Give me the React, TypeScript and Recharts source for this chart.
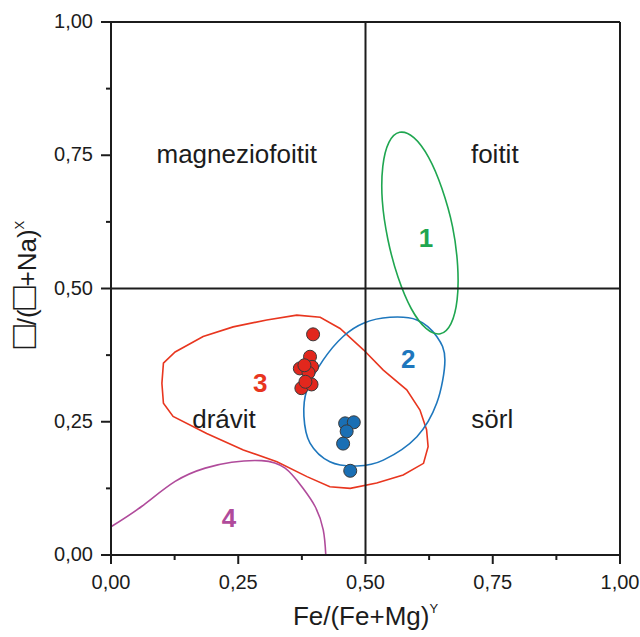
import React from 'react'
import { ComposedChart, Line, ReferenceLine, Scatter, XAxis, YAxis } from 'recharts'

// axis ticks
const majorTicks = [0, 0.25, 0.5, 0.75, 1]
const minorTicks = [0.125, 0.375, 0.625, 0.875]

// measured samples
const redSamples = [
    { x: 0.397, y: 0.414 },
    { x: 0.391, y: 0.372 },
    { x: 0.371, y: 0.350 },
    { x: 0.395, y: 0.353 },
    { x: 0.388, y: 0.342 },
    { x: 0.380, y: 0.356 },
    { x: 0.374, y: 0.313 },
    { x: 0.394, y: 0.320 },
    { x: 0.382, y: 0.325 },
]

const blueSamples = [
    { x: 0.460, y: 0.247 },
    { x: 0.477, y: 0.249 },
    { x: 0.463, y: 0.232 },
    { x: 0.456, y: 0.209 },
    { x: 0.470, y: 0.158 },
]

// field 1 (green ellipse)
const field1 = [
    { x: 0.647, y: 0.415 },
    { x: 0.668, y: 0.434 },
    { x: 0.680, y: 0.479 },
    { x: 0.681, y: 0.543 },
    { x: 0.671, y: 0.616 },
    { x: 0.650, y: 0.688 },
    { x: 0.624, y: 0.746 },
    { x: 0.595, y: 0.783 },
    { x: 0.567, y: 0.793 },
    { x: 0.546, y: 0.774 },
    { x: 0.534, y: 0.729 },
    { x: 0.533, y: 0.665 },
    { x: 0.544, y: 0.592 },
    { x: 0.564, y: 0.521 },
    { x: 0.590, y: 0.462 },
    { x: 0.619, y: 0.425 },
]

// field 2 (blue ellipse)
const field2 = [
    { x: 0.417, y: 0.366 },
    { x: 0.456, y: 0.410 },
    { x: 0.496, y: 0.435 },
    { x: 0.548, y: 0.446 },
    { x: 0.601, y: 0.441 },
    { x: 0.640, y: 0.410 },
    { x: 0.656, y: 0.366 },
    { x: 0.640, y: 0.285 },
    { x: 0.601, y: 0.222 },
    { x: 0.535, y: 0.178 },
    { x: 0.483, y: 0.167 },
    { x: 0.430, y: 0.175 },
    { x: 0.391, y: 0.210 },
    { x: 0.379, y: 0.260 },
    { x: 0.385, y: 0.310 },
]

// field 3 (red polygon)
const field3 = [
    { x: 0.103, y: 0.360 },
    { x: 0.126, y: 0.381 },
    { x: 0.181, y: 0.410 },
    { x: 0.240, y: 0.428 },
    { x: 0.306, y: 0.441 },
    { x: 0.365, y: 0.450 },
    { x: 0.411, y: 0.446 },
    { x: 0.450, y: 0.425 },
    { x: 0.496, y: 0.385 },
    { x: 0.535, y: 0.347 },
    { x: 0.581, y: 0.310 },
    { x: 0.607, y: 0.272 },
    { x: 0.620, y: 0.235 },
    { x: 0.623, y: 0.203 },
    { x: 0.614, y: 0.172 },
    { x: 0.574, y: 0.150 },
    { x: 0.522, y: 0.135 },
    { x: 0.470, y: 0.125 },
    { x: 0.430, y: 0.128 },
    { x: 0.385, y: 0.147 },
    { x: 0.326, y: 0.175 },
    { x: 0.260, y: 0.197 },
    { x: 0.188, y: 0.228 },
    { x: 0.122, y: 0.260 },
    { x: 0.103, y: 0.285 },
    { x: 0.100, y: 0.322 },
]

// field 4 (purple, open)
const field4 = [
    { x: 0.000, y: 0.053 },
    { x: 0.060, y: 0.091 },
    { x: 0.126, y: 0.138 },
    { x: 0.185, y: 0.163 },
    { x: 0.237, y: 0.174 },
    { x: 0.296, y: 0.177 },
    { x: 0.342, y: 0.163 },
    { x: 0.375, y: 0.128 },
    { x: 0.401, y: 0.091 },
    { x: 0.417, y: 0.047 },
    { x: 0.422, y: 0.000 },
]

const regionNames = [
    { x: 0.247, y: 0.736, text: 'magneziofoitit' },
    { x: 0.754, y: 0.736, text: 'foitit' },
    { x: 0.222, y: 0.238, text: 'drávit' },
    { x: 0.749, y: 0.238, text: 'sörl' },
]

const fieldNumbers = [
    { x: 0.619, y: 0.578, text: '1' },
    { x: 0.584, y: 0.351, text: '2' },
    { x: 0.293, y: 0.306, text: '3' },
    { x: 0.232, y: 0.053, text: '4' },
]

const fieldColors: Record<string, string> = {
    '1': '#1fa650',
    '2': '#1e77bd',
    '3': '#e8361f',
    '4': '#b04b9b',
}

const ink = '#1c1c1c'
const font = '"Liberation Sans", Arial, sans-serif'
const fmt = (v: number) => v.toFixed(2).replace('.', ',')

// closed catmull-rom curve, passes through every point
const closedSmooth = (context: any) => {
    let pts: number[][] = []
    return {
        areaStart() {},
        areaEnd() {},
        lineStart() {
            pts = []
        },
        point(x: number, y: number) {
            pts.push([x, y])
        },
        lineEnd() {
            const n = pts.length
            if (!n) return
            context.moveTo(pts[0][0], pts[0][1])
            for (let i = 0; i < n; i++) {
                const p0 = pts[(i - 1 + n) % n]
                const p1 = pts[i]
                const p2 = pts[(i + 1) % n]
                const p3 = pts[(i + 2) % n]
                context.bezierCurveTo(
                    p1[0] + (p2[0] - p0[0]) / 6,
                    p1[1] + (p2[1] - p0[1]) / 6,
                    p2[0] - (p3[0] - p1[0]) / 6,
                    p2[1] - (p3[1] - p1[1]) / 6,
                    p2[0],
                    p2[1]
                )
            }
            context.closePath()
        },
    }
}

const XTick = (props: any) => {
    const { x, y, payload } = props
    const major = majorTicks.includes(payload.value)
    return (
        <g>
            <line x1={x} x2={x} y1={y} y2={y + (major ? 9 : 5)} stroke={ink} strokeWidth={2} />
            {major && (
                <text x={x} y={y + 34} textAnchor="middle" fontSize={20} fontFamily={font} fill={ink}>
                    {fmt(payload.value)}
                </text>
            )}
        </g>
    )
}

const YTick = (props: any) => {
    const { x, y, payload } = props
    const major = majorTicks.includes(payload.value)
    return (
        <g>
            <line x1={x} x2={x - (major ? 10 : 5)} y1={y} y2={y} stroke={ink} strokeWidth={2} />
            {major && (
                <text x={x - 18} y={y + 6} textAnchor="end" fontSize={20} fontFamily={font} fill={ink}>
                    {fmt(payload.value)}
                </text>
            )}
        </g>
    )
}

const XTitle = (props: any) => {
    const { viewBox } = props
    const cx = viewBox.x + viewBox.width / 2
    return (
        <text x={cx} y={viewBox.y + 70} textAnchor="middle" fontSize={26} fontFamily={font} fill={ink}>
            Fe/(Fe+Mg)<tspan dy={-12} fontSize={13}>Y</tspan>
        </text>
    )
}

const YTitle = (props: any) => {
    const { viewBox } = props
    const x = viewBox.x + 36
    const y = viewBox.y + viewBox.height / 2 - 4
    return (
        <text x={x} y={y} transform={`rotate(-90, ${x}, ${y})`} textAnchor="middle" fontSize={26} fontFamily={font} fill={ink}>
            <tspan fontSize={38}>□</tspan>/(<tspan fontSize={38}>□</tspan>+Na)<tspan dy={-12} fontSize={13}>X</tspan>
        </text>
    )
}

const dot = (fill: string) => (p: any) => (
    <circle cx={p.cx} cy={p.cy} r={6.5} fill={fill} stroke="#3a3a3a" strokeWidth={1} />
)

const nameShape = (p: any) => (
    <text x={p.cx} y={p.cy} textAnchor="middle" fontSize={26} fontFamily={font} fill={ink}>
        {p.payload.text}
    </text>
)

const numberShape = (p: any) => (
    <text x={p.cx} y={p.cy} textAnchor="middle" fontSize={26} fontWeight="bold" fontFamily={font} fill={fieldColors[p.payload.text]}>
        {p.payload.text}
    </text>
)

export default function App() {
    const ticks = [...majorTicks, ...minorTicks].sort((a, b) => a - b)
    return (
        <div style={{ position: 'absolute', left: 0, top: 0, background: '#fff' }}>
            <ComposedChart width={640} height={637} margin={{ top: 22, right: 20, left: 0, bottom: 0 }}>
                <XAxis
                    type="number"
                    dataKey="x"
                    domain={[0, 1]}
                    allowDataOverflow
                    ticks={ticks}
                    interval={0}
                    tickSize={0}
                    tickMargin={0}
                    tickLine={false}
                    tick={<XTick />}
                    axisLine={{ stroke: ink, strokeWidth: 2 }}
                    height={82}
                    label={<XTitle />}
                />
                <YAxis
                    type="number"
                    dataKey="y"
                    domain={[0, 1]}
                    allowDataOverflow
                    ticks={ticks}
                    interval={0}
                    tickSize={0}
                    tickMargin={0}
                    tickLine={false}
                    tick={<YTick />}
                    axisLine={{ stroke: ink, strokeWidth: 2 }}
                    width={111}
                    label={<YTitle />}
                />
                <ReferenceLine x={1} stroke={ink} strokeWidth={2} />
                <ReferenceLine y={1} stroke={ink} strokeWidth={2} />

                <Line data={field3} dataKey="y" type="linearClosed" stroke={fieldColors['3']} strokeWidth={1.6} dot={false} isAnimationActive={false} />
                <Line data={field4} dataKey="y" type="natural" stroke={fieldColors['4']} strokeWidth={1.6} dot={false} isAnimationActive={false} />
                <Line data={field2} dataKey="y" type={closedSmooth as any} stroke={fieldColors['2']} strokeWidth={1.6} dot={false} isAnimationActive={false} />
                <Line data={field1} dataKey="y" type={closedSmooth as any} stroke={fieldColors['1']} strokeWidth={1.6} dot={false} isAnimationActive={false} />

                <ReferenceLine x={0.5} stroke={ink} strokeWidth={2} />
                <ReferenceLine y={0.5} stroke={ink} strokeWidth={2} />

                <Scatter data={redSamples} shape={dot('#e2271d')} isAnimationActive={false} />
                <Scatter data={blueSamples} shape={dot('#1a6fb4')} isAnimationActive={false} />
                <Scatter data={regionNames} shape={nameShape} isAnimationActive={false} />
                <Scatter data={fieldNumbers} shape={numberShape} isAnimationActive={false} />
            </ComposedChart>
        </div>
    )
}
